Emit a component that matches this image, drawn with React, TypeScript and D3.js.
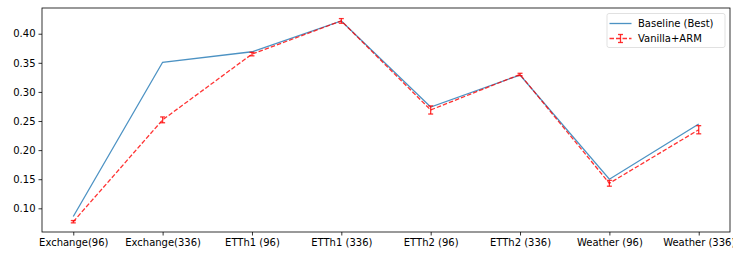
import React, { useEffect, useRef } from 'react';
import * as d3 from 'd3';

const categories = [
  'Exchange(96)', 'Exchange(336)', 'ETTh1 (96)', 'ETTh1 (336)',
  'ETTh2 (96)', 'ETTh2 (336)', 'Weather (96)', 'Weather (336)',
];
const baseline = [0.086, 0.351, 0.369, 0.422, 0.274, 0.329, 0.150, 0.245];
const vanillaArm = [0.077, 0.252, 0.365, 0.422, 0.269, 0.330, 0.143, 0.235];
const vanillaErr = [0.002, 0.005, 0.003, 0.004, 0.007, 0.002, 0.005, 0.007];
const yTicks = [0.10, 0.15, 0.20, 0.25, 0.30, 0.35, 0.40];

const W = 733;
const H = 253;
const FONT = 'DejaVu Sans, sans-serif';
const BLUE = 'rgba(31,119,180,0.8)';
const RED = 'rgba(255,0,0,0.8)';

const App = () => {
  const svgRef = useRef<SVGSVGElement>(null);

  useEffect(() => {
    const svg = d3.select(svgRef.current);
    svg.selectAll('*').remove();

    const left = 42, right = 730, top = 8, bottom = 232;

    const x = d3.scalePoint<string>()
      .domain(categories)
      .range([left, right])
      .padding(0.35);

    const y = d3.scaleLinear()
      .domain([0.0593, 0.4442])
      .range([bottom, top]);

    svg.append('rect')
      .attr('width', W).attr('height', H).attr('fill', '#fff');

    // axes
    const xAxis = svg.append('g')
      .attr('transform', `translate(0,${bottom})`)
      .call(d3.axisBottom(x).tickSize(3.5).tickPadding(3));
    xAxis.select('.domain').remove();
    xAxis.selectAll('text').attr('font-family', FONT).attr('font-size', 10).attr('fill', '#000');
    xAxis.selectAll('line').attr('stroke', '#000').attr('stroke-width', 0.8);

    const yAxis = svg.append('g')
      .attr('transform', `translate(${left},0)`)
      .call(d3.axisLeft(y).tickValues(yTicks).tickFormat(d3.format('.2f')).tickSize(3.5).tickPadding(3));
    yAxis.select('.domain').remove();
    yAxis.selectAll('text').attr('font-family', FONT).attr('font-size', 10).attr('fill', '#000');
    yAxis.selectAll('line').attr('stroke', '#000').attr('stroke-width', 0.8);

    const line = d3.line<number>()
      .x((d, i) => x(categories[i]) as number)
      .y((d) => y(d));

    svg.append('path')
      .datum(baseline)
      .attr('d', line)
      .attr('fill', 'none')
      .attr('stroke', BLUE)
      .attr('stroke-width', 1.3);

    svg.append('path')
      .datum(vanillaArm)
      .attr('d', line)
      .attr('fill', 'none')
      .attr('stroke', RED)
      .attr('stroke-width', 1.3)
      .attr('stroke-dasharray', '4.5,2');

    // error bars
    const eb = svg.append('g').attr('stroke', RED).attr('stroke-width', 1.3);
    vanillaArm.forEach((v, i) => {
      const cx = x(categories[i]) as number;
      const y0 = y(v - vanillaErr[i]);
      const y1 = y(v + vanillaErr[i]);
      eb.append('line').attr('x1', cx).attr('x2', cx).attr('y1', y0).attr('y2', y1);
      eb.append('line').attr('x1', cx - 2.5).attr('x2', cx + 2.5).attr('y1', y0).attr('y2', y0);
      eb.append('line').attr('x1', cx - 2.5).attr('x2', cx + 2.5).attr('y1', y1).attr('y2', y1);
    });

    // frame
    svg.append('rect')
      .attr('x', left).attr('y', top)
      .attr('width', right - left).attr('height', bottom - top)
      .attr('fill', 'none').attr('stroke', '#000').attr('stroke-width', 0.8);

    // legend
    const lg = svg.append('g').attr('transform', 'translate(607,13.5)');
    lg.append('rect')
      .attr('width', 118).attr('height', 34).attr('rx', 2)
      .attr('fill', 'rgba(255,255,255,0.8)').attr('stroke', '#d9d9d9').attr('stroke-width', 0.8);
    lg.append('line')
      .attr('x1', 2.5).attr('x2', 24.5).attr('y1', 10).attr('y2', 10)
      .attr('stroke', BLUE).attr('stroke-width', 1.3);
    lg.append('line')
      .attr('x1', 2.5).attr('x2', 24.5).attr('y1', 25).attr('y2', 25)
      .attr('stroke', RED).attr('stroke-width', 1.3).attr('stroke-dasharray', '4.5,2');
    const lm = lg.append('g').attr('stroke', RED).attr('stroke-width', 1.3);
    lm.append('line').attr('x1', 13.5).attr('x2', 13.5).attr('y1', 21).attr('y2', 29);
    lm.append('line').attr('x1', 11).attr('x2', 16).attr('y1', 21).attr('y2', 21);
    lm.append('line').attr('x1', 11).attr('x2', 16).attr('y1', 29).attr('y2', 29);
    ['Baseline (Best)', 'Vanilla+ARM'].forEach((t, i) => {
      lg.append('text')
        .attr('x', 31).attr('y', 10 + i * 15).attr('dy', '0.35em')
        .attr('font-family', FONT).attr('font-size', 10).attr('fill', '#000')
        .text(t);
    });
  }, []);

  return (
    <svg
      ref={svgRef}
      width={W}
      height={H}
      style={{ position: 'fixed', left: 0, top: 0, display: 'block' }}
    />
  );
};

export default App;
